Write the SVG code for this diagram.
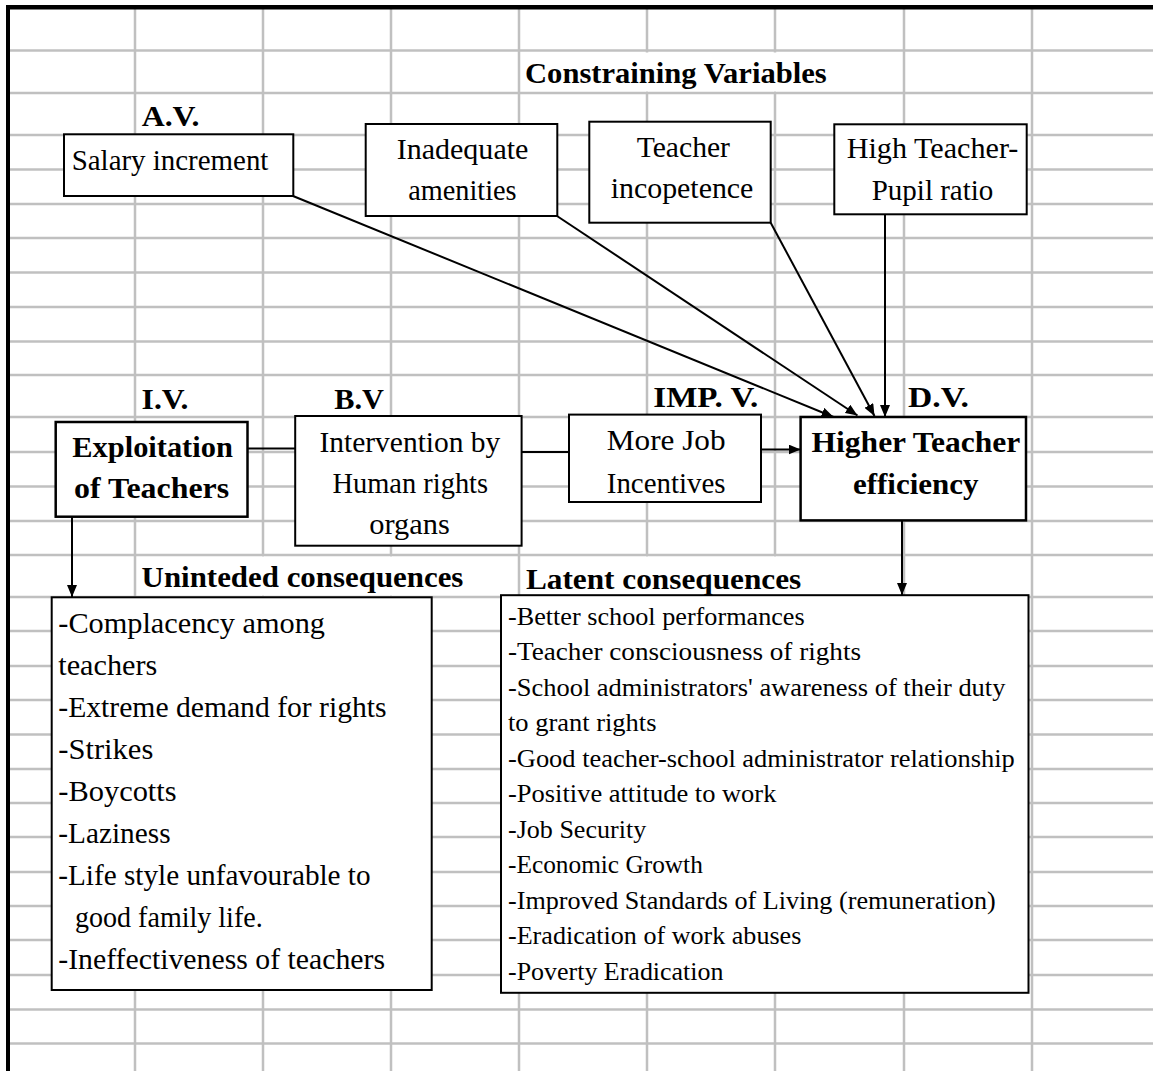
<svg xmlns="http://www.w3.org/2000/svg" width="1153" height="1071" viewBox="0 0 1153 1071">
<style>
text { font-family: "Liberation Serif", "Times New Roman", Times, serif; fill: #000; }
.lbl { font-weight: bold; font-size: 30px; }
.txt { font-size: 30px; }
.bt { font-weight: bold; font-size: 30px; }
.lst { font-size: 29.5px; }
.lat { font-size: 25.5px; }
.grid line { stroke: #c0c0c0; stroke-width: 2.5; }
.box { fill: #fff; stroke: #000; stroke-width: 2; }
.boxb { fill: #fff; stroke: #000; stroke-width: 2.5; }
.conn line { stroke: #000; stroke-width: 2; fill: none; }
.arr { marker-end: url(#ah); }
.hide { fill: #fff; }
</style>
<defs>
<marker id="ah" markerUnits="userSpaceOnUse" markerWidth="12" markerHeight="10" refX="12" refY="5" orient="auto">
<path d="M0,0 L12,5 L0,10 z" fill="#000"/>
</marker>
</defs>
<rect x="0" y="0" width="1153" height="1071" fill="#fff"/>
<g class="grid">
<line x1="135" y1="9" x2="135" y2="1071"/>
<line x1="263" y1="9" x2="263" y2="1071"/>
<line x1="391" y1="9" x2="391" y2="1071"/>
<line x1="519" y1="9" x2="519" y2="1071"/>
<line x1="647" y1="9" x2="647" y2="1071"/>
<line x1="775" y1="9" x2="775" y2="1071"/>
<line x1="904" y1="9" x2="904" y2="1071"/>
<line x1="1032" y1="9" x2="1032" y2="1071"/>
<line x1="10" y1="50.6" x2="1153" y2="50.6"/>
<line x1="10" y1="93" x2="1153" y2="93"/>
<line x1="10" y1="135" x2="1153" y2="135"/>
<line x1="10" y1="169.5" x2="1153" y2="169.5"/>
<line x1="10" y1="204" x2="1153" y2="204"/>
<line x1="10" y1="238" x2="1153" y2="238"/>
<line x1="10" y1="272.5" x2="1153" y2="272.5"/>
<line x1="10" y1="307" x2="1153" y2="307"/>
<line x1="10" y1="341.5" x2="1153" y2="341.5"/>
<line x1="10" y1="375" x2="1153" y2="375"/>
<line x1="10" y1="417" x2="1153" y2="417"/>
<line x1="10" y1="452" x2="1153" y2="452"/>
<line x1="10" y1="486.5" x2="1153" y2="486.5"/>
<line x1="10" y1="521" x2="1153" y2="521"/>
<line x1="10" y1="555" x2="1153" y2="555"/>
<line x1="10" y1="597" x2="1153" y2="597"/>
<line x1="10" y1="631" x2="1153" y2="631"/>
<line x1="10" y1="666" x2="1153" y2="666"/>
<line x1="10" y1="700" x2="1153" y2="700"/>
<line x1="10" y1="734.5" x2="1153" y2="734.5"/>
<line x1="10" y1="769" x2="1153" y2="769"/>
<line x1="10" y1="803" x2="1153" y2="803"/>
<line x1="10" y1="837" x2="1153" y2="837"/>
<line x1="10" y1="872" x2="1153" y2="872"/>
<line x1="10" y1="906" x2="1153" y2="906"/>
<line x1="10" y1="940" x2="1153" y2="940"/>
<line x1="10" y1="975" x2="1153" y2="975"/>
<line x1="10" y1="1009.5" x2="1153" y2="1009.5"/>
<line x1="10" y1="1043.5" x2="1153" y2="1043.5"/>
</g>
<g class="gaps">
<rect class="hide" x="645" y="52.5" width="4" height="39"/>
<rect class="hide" x="773" y="52.5" width="4" height="39"/>
<rect class="hide" x="261" y="556.5" width="4" height="39"/>
<rect class="hide" x="389" y="556.5" width="4" height="39"/>
<rect class="hide" x="645" y="556.5" width="4" height="39"/>
<rect class="hide" x="773" y="556.5" width="4" height="39"/>
</g>
<rect x="6" y="5" width="1147" height="4.5" fill="#000"/>
<rect x="6" y="5" width="4" height="1066" fill="#000"/>
<g class="labels">
<text class="lbl" x="525" y="83" textLength="301.7" lengthAdjust="spacingAndGlyphs">Constraining Variables</text>
<text class="lbl" x="141.7" y="126" textLength="57.7" lengthAdjust="spacingAndGlyphs">A.V.</text>
<text class="lbl" x="141.6" y="408.7" textLength="46.9" lengthAdjust="spacingAndGlyphs">I.V.</text>
<text class="lbl" x="334.3" y="408.7" textLength="49.7" lengthAdjust="spacingAndGlyphs">B.V</text>
<text class="lbl" x="653.3" y="407" textLength="105" lengthAdjust="spacingAndGlyphs">IMP. V.</text>
<text class="lbl" x="908" y="407" textLength="61" lengthAdjust="spacingAndGlyphs">D.V.</text>
<text class="lbl" x="141.6" y="587" textLength="321.8" lengthAdjust="spacingAndGlyphs">Uninteded consequences</text>
<text class="lbl" x="525.9" y="588.7" textLength="275.4" lengthAdjust="spacingAndGlyphs">Latent consequences</text>
</g>
<g class="conn">
<line class="arr" x1="293" y1="196" x2="833.5" y2="417"/>
<line class="arr" x1="557" y1="216" x2="857.5" y2="415.5"/>
<line class="arr" x1="770.7" y1="222.7" x2="874.5" y2="416"/>
<line class="arr" x1="885" y1="214.3" x2="885" y2="417"/>
<line x1="248" y1="448.4" x2="295" y2="448.4"/>
<line x1="521" y1="452" x2="569" y2="452"/>
<line class="arr" x1="758" y1="449.5" x2="800.6" y2="449.5"/>
<line class="arr" x1="72" y1="517" x2="72" y2="597"/>
<line class="arr" x1="902" y1="520" x2="902" y2="595"/>
</g>
<g id="salary">
<rect class="box" x="64" y="134.3" width="229.3" height="61.7"/>
<text class="txt" x="71.7" y="170" textLength="196.7" lengthAdjust="spacingAndGlyphs">Salary increment</text>
</g>
<g id="amenities">
<rect class="box" x="365.7" y="124" width="191.6" height="92"/>
<text class="txt" x="396.7" y="159" textLength="131.7" lengthAdjust="spacingAndGlyphs">Inadequate</text>
<text class="txt" x="408.3" y="200" textLength="108.3" lengthAdjust="spacingAndGlyphs">amenities</text>
</g>
<g id="incompetence">
<rect class="box" x="589.3" y="121.7" width="181.4" height="101"/>
<text class="txt" x="636.7" y="156.7" textLength="93.3" lengthAdjust="spacingAndGlyphs">Teacher</text>
<text class="txt" x="610.7" y="197.7" textLength="142.7" lengthAdjust="spacingAndGlyphs">incopetence</text>
</g>
<g id="ratio">
<rect class="box" x="834.3" y="124.3" width="192.4" height="90"/>
<text class="txt" x="846.7" y="158" textLength="171.7" lengthAdjust="spacingAndGlyphs">High Teacher-</text>
<text class="txt" x="871.7" y="200" textLength="121.7" lengthAdjust="spacingAndGlyphs">Pupil ratio</text>
</g>
<g id="exploitation">
<rect class="boxb" x="55.7" y="422" width="191.8" height="94.7"/>
<text class="bt" x="72.3" y="456.6" textLength="160.5" lengthAdjust="spacingAndGlyphs">Exploitation</text>
<text class="bt" x="74.1" y="497.9" textLength="155" lengthAdjust="spacingAndGlyphs">of Teachers</text>
</g>
<g id="intervention">
<rect class="box" x="295.2" y="416" width="226.4" height="129.7"/>
<text class="txt" x="319.5" y="451.7" textLength="180.8" lengthAdjust="spacingAndGlyphs">Intervention by</text>
<text class="txt" x="332.4" y="493" textLength="155.7" lengthAdjust="spacingAndGlyphs">Human rights</text>
<text class="txt" x="369.3" y="534" textLength="80.5" lengthAdjust="spacingAndGlyphs">organs</text>
</g>
<g id="incentives">
<rect class="box" x="569" y="414.6" width="192" height="87.4"/>
<text class="txt" x="606.8" y="449.7" textLength="118.7" lengthAdjust="spacingAndGlyphs">More Job</text>
<text class="txt" x="606.8" y="492.8" textLength="118.7" lengthAdjust="spacingAndGlyphs">Incentives</text>
</g>
<g id="efficiency">
<rect class="boxb" x="800.6" y="417" width="225.4" height="103.4"/>
<text class="bt" x="811.6" y="451.7" textLength="208.6" lengthAdjust="spacingAndGlyphs">Higher Teacher</text>
<text class="bt" x="852.9" y="494.4" textLength="125.7" lengthAdjust="spacingAndGlyphs">efficiency</text>
</g>
<g id="unintended">
<rect class="box" x="51.7" y="597.3" width="380" height="392.7"/>
<text class="lst" x="58.3" y="633" textLength="266.7" lengthAdjust="spacingAndGlyphs">-Complacency among</text>
<text class="lst" x="58.3" y="675" textLength="99" lengthAdjust="spacingAndGlyphs">teachers</text>
<text class="lst" x="58.3" y="717" textLength="328.3" lengthAdjust="spacingAndGlyphs">-Extreme demand for rights</text>
<text class="lst" x="58.3" y="759" textLength="95" lengthAdjust="spacingAndGlyphs">-Strikes</text>
<text class="lst" x="58.3" y="801" textLength="118.3" lengthAdjust="spacingAndGlyphs">-Boycotts</text>
<text class="lst" x="58.3" y="843" textLength="112.3" lengthAdjust="spacingAndGlyphs">-Laziness</text>
<text class="lst" x="58.3" y="885" textLength="312.3" lengthAdjust="spacingAndGlyphs">-Life style unfavourable to</text>
<text class="lst" x="75" y="927" textLength="187.7" lengthAdjust="spacingAndGlyphs">good family life.</text>
<text class="lst" x="58.3" y="969" textLength="326.7" lengthAdjust="spacingAndGlyphs">-Ineffectiveness of teachers</text>
</g>
<g id="latent">
<rect class="box" x="501" y="595.2" width="527.5" height="397.6"/>
<text class="lat" x="508" y="624.5" textLength="296.7" lengthAdjust="spacingAndGlyphs">-Better school performances</text>
<text class="lat" x="508" y="660" textLength="353" lengthAdjust="spacingAndGlyphs">-Teacher consciousness of rights</text>
<text class="lat" x="508" y="695.5" textLength="497.4" lengthAdjust="spacingAndGlyphs">-School administrators' awareness of their duty</text>
<text class="lat" x="508" y="731" textLength="148.5" lengthAdjust="spacingAndGlyphs">to grant rights</text>
<text class="lat" x="508" y="766.5" textLength="506.7" lengthAdjust="spacingAndGlyphs">-Good teacher-school administrator relationship</text>
<text class="lat" x="508" y="802" textLength="268.4" lengthAdjust="spacingAndGlyphs">-Positive attitude to work</text>
<text class="lat" x="508" y="837.5" textLength="138.2" lengthAdjust="spacingAndGlyphs">-Job Security</text>
<text class="lat" x="508" y="873" textLength="194.8" lengthAdjust="spacingAndGlyphs">-Economic Growth</text>
<text class="lat" x="508" y="908.5" textLength="487.7" lengthAdjust="spacingAndGlyphs">-Improved Standards of Living (remuneration)</text>
<text class="lat" x="508" y="944" textLength="293.3" lengthAdjust="spacingAndGlyphs">-Eradication of work abuses</text>
<text class="lat" x="508" y="979.5" textLength="215.5" lengthAdjust="spacingAndGlyphs">-Poverty Eradication</text>
</g>
</svg>
